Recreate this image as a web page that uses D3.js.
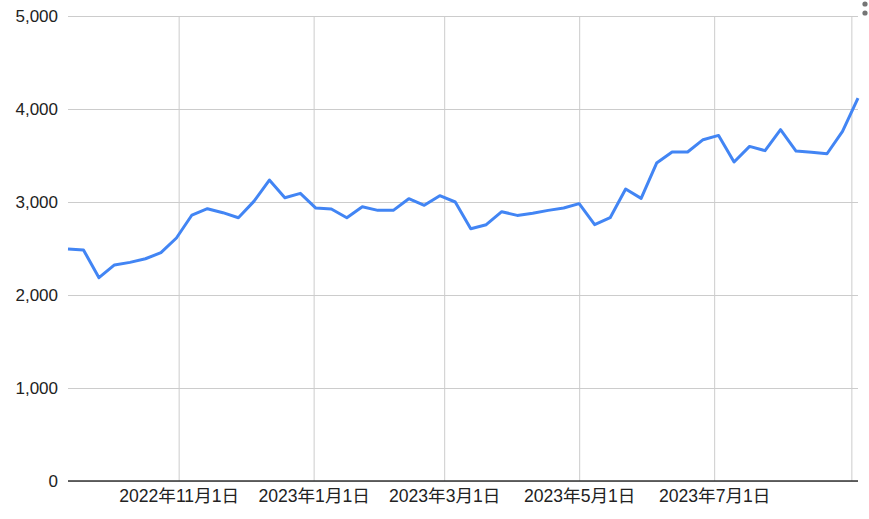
<!DOCTYPE html>
<meta charset="utf-8">
<style>
  body { margin: 0; background: #fff; }
  text { font-family: Arial, "Liberation Sans", "Noto Sans CJK JP", sans-serif; }
</style>
<script src="https://d3js.org/d3.v7.min.js"></script>
<div id="my_dataviz"></div>
<script>

// weekly dates and values
var dates = [
  "2022-09-12","2022-09-19","2022-09-26","2022-10-03","2022-10-10","2022-10-17","2022-10-24","2022-10-31",
  "2022-11-07","2022-11-14","2022-11-21","2022-11-28","2022-12-05","2022-12-12","2022-12-19","2022-12-26",
  "2023-01-02","2023-01-09","2023-01-16","2023-01-23","2023-01-30","2023-02-06","2023-02-13","2023-02-20",
  "2023-02-27","2023-03-06","2023-03-13","2023-03-20","2023-03-27","2023-04-03","2023-04-10","2023-04-17",
  "2023-04-24","2023-05-01","2023-05-08","2023-05-15","2023-05-22","2023-05-29","2023-06-05","2023-06-12",
  "2023-06-19","2023-06-26","2023-07-03","2023-07-10","2023-07-17","2023-07-24","2023-07-31","2023-08-07",
  "2023-08-14","2023-08-21","2023-08-28","2023-09-04"
];
var values = [
  2495, 2484, 2186, 2323, 2351, 2390, 2455, 2613,
  2860, 2928, 2885, 2831, 3007, 3236, 3046, 3093,
  2935, 2925, 2831, 2949, 2910, 2910, 3035, 2964,
  3068, 3000, 2713, 2756, 2896, 2856, 2878, 2910,
  2935, 2982, 2756, 2831, 3140, 3039, 3419, 3538,
  3538, 3670, 3716, 3430, 3598, 3552, 3778, 3548,
  3535, 3519, 3759, 4118
];
var yTicks = [0, 1000, 2000, 3000, 4000, 5000];
var xTicks = ["2022-11-01", "2023-01-01", "2023-03-01", "2023-05-01", "2023-07-01", "2023-09-01"];
var xLabels = ["2022年11月1日", "2023年1月1日", "2023年3月1日", "2023年5月1日", "2023年7月1日", ""];

var margin = {top: 16, right: 11, bottom: 38, left: 68},
  width = 869 - margin.left - margin.right,
  height = 519 - margin.top - margin.bottom;

var parse = d3.timeParse("%Y-%m-%d");
var data = dates.map(function(d, i) { return {date: parse(d), value: values[i]}; });

var svg = d3.select("#my_dataviz")
  .append("svg")
    .attr("width", 869)
    .attr("height", 519);

var g = svg.append("g")
    .attr("transform", "translate(" + margin.left + "," + margin.top + ")");

var x = d3.scaleTime()
  .domain([parse("2022-09-12"), parse("2023-09-04")])
  .range([0, width]);

var y = d3.scaleLinear()
  .domain([0, 5000])
  .range([height, 0]);

// horizontal grid + labels
g.append("g")
    .call(d3.axisLeft(y).tickValues(yTicks).tickFormat(d3.format(",")).tickSize(-width).tickPadding(10))
    .call(function(a) { a.select(".domain").remove(); })
    .call(function(a) {
      a.selectAll("line").attr("stroke", "#cccccc");
      a.selectAll("text").attr("fill", "#222").style("font-size", "17px");
    });

// vertical grid + labels
var xDates = xTicks.map(parse);
g.append("g")
    .attr("transform", "translate(0," + height + ")")
    .call(d3.axisBottom(x).tickValues(xDates).tickSize(-height).tickPadding(9)
      .tickFormat(function(d, i) { return xLabels[i]; }))
    .call(function(a) { a.select(".domain").remove(); })
    .call(function(a) {
      a.selectAll("line").attr("stroke", "#cccccc");
      a.selectAll("text").attr("fill", "#222").style("font-size", "17.6px");
    });

// baseline
g.append("line")
    .attr("x1", 0).attr("x2", width)
    .attr("y1", y(0)).attr("y2", y(0))
    .attr("stroke", "#333")
    .attr("stroke-width", 1.5);

// the line
var line = d3.line()
  .x(function(d) { return x(d.date); })
  .y(function(d) { return y(d.value); });

g.append("path")
    .datum(data)
    .attr("fill", "none")
    .attr("stroke", "#4285f4")
    .attr("stroke-width", 3)
    .attr("stroke-linejoin", "round")
    .attr("d", line);

// menu dots top right
svg.selectAll(".dot")
  .data([4, 13])
  .enter()
  .append("circle")
    .attr("cx", 865)
    .attr("cy", function(d) { return d; })
    .attr("r", 2.6)
    .attr("fill", "#757575");

</script>
